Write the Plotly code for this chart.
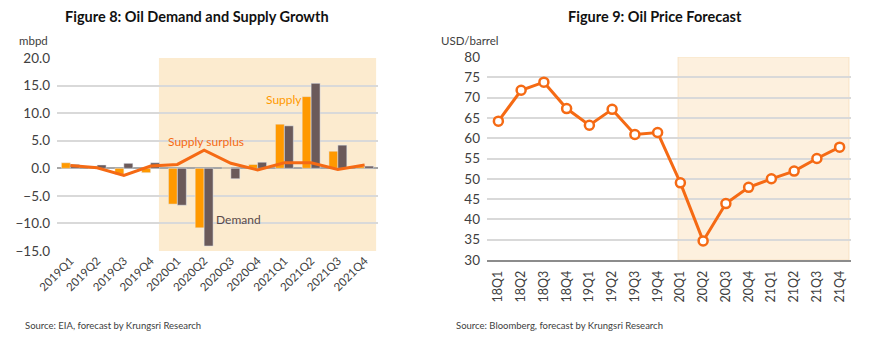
import plotly.graph_objects as go

# ---- Figure 8 data ----
quarters8 = ["2019Q1", "2019Q2", "2019Q3", "2019Q4", "2020Q1", "2020Q2",
             "2020Q3", "2020Q4", "2021Q1", "2021Q2", "2021Q3", "2021Q4"]
supply = [1.0, 0.4, -1.1, -0.8, -6.5, -10.8, 0.1, 0.7, 8.0, 13.0, 3.1, 0.3]
demand = [0.7, 0.6, 0.9, 1.0, -6.7, -14.1, -1.9, 1.1, 7.7, 15.4, 4.2, 0.4]
surplus = [0.5, 0.1, -1.3, 0.4, 0.7, 3.3, 0.9, -0.3, 1.0, 1.0, -0.2, 0.6]
y8_ticks = [-15, -10, -5, 0, 5, 10, 15, 20]

# ---- Figure 9 data ----
quarters9 = ["18Q1", "18Q2", "18Q3", "18Q4", "19Q1", "19Q2", "19Q3", "19Q4",
             "20Q1", "20Q2", "20Q3", "20Q4", "21Q1", "21Q2", "21Q3", "21Q4"]
price = [64.2, 71.8, 73.8, 67.3, 63.2, 67.1, 60.9, 61.4,
         49.0, 34.7, 43.9, 47.9, 50.0, 51.9, 55.0, 57.8]
y9_ticks = [30, 35, 40, 45, 50, 55, 60, 65, 70, 75, 80]

FONT = "Lato"
ORANGE = "#FF9900"
GREY = "#6B5A5A"
LINE = "#F56A14"
GRID = "#D9D9D9"
TXT = "#404040"

fig = go.Figure()

fig.add_trace(go.Bar(x=quarters8, y=supply, marker_color=ORANGE, name="Supply",
                     xaxis="x", yaxis="y"))
fig.add_trace(go.Bar(x=quarters8, y=demand, marker_color=GREY, name="Demand",
                     xaxis="x", yaxis="y"))
fig.add_trace(go.Scatter(x=quarters8, y=surplus, mode="lines",
                         line=dict(color=LINE, width=3), name="Supply surplus",
                         xaxis="x", yaxis="y"))

fig.add_trace(go.Scatter(x=quarters9, y=price, mode="lines+markers",
                         line=dict(color=LINE, width=3),
                         marker=dict(size=9, color="white",
                                     line=dict(color=LINE, width=2.5)),
                         name="Price", xaxis="x2", yaxis="y2"))

W, H = 870, 338
def px_x(p):
    return p / W
def px_y(p):
    return 1 - p / H

fig.update_layout(
    width=W, height=H, margin=dict(l=0, r=0, t=0, b=0, autoexpand=False),
    paper_bgcolor="white", plot_bgcolor="white",
    showlegend=False, barmode="group", bargap=0.33, bargroupgap=0,
    font=dict(family=FONT, color=TXT),
    xaxis=dict(domain=[px_x(57), px_x(378)], anchor="y", type="category",
               range=[-0.5, 11.5], tickangle=-45, tickfont=dict(size=11.5),
               showgrid=False, ticks="", showline=False, automargin=False),
    yaxis=dict(domain=[px_y(251), px_y(58)], anchor="x", range=[-15, 20],
               tickvals=y8_ticks, tickformat=".1f", tickfont=dict(size=13.5),
               showgrid=True, gridcolor=GRID, gridwidth=1.5,
               zeroline=True, zerolinecolor="#A6A6A6", zerolinewidth=1.5,
               ticks="", ticklabelstandoff=6, automargin=False),
    xaxis2=dict(domain=[px_x(487), px_x(851)], anchor="y2", type="category",
                range=[-0.5, 15.5], tickangle=-90, tickfont=dict(size=12.5),
                showgrid=False, ticks="", showline=True, linecolor="#8C8C8C",
                linewidth=1.5, automargin=False, ticklabelstandoff=4),
    yaxis2=dict(domain=[px_y(260), px_y(57)], anchor="x2", range=[30, 80],
                tickvals=y9_ticks, tickfont=dict(size=13.5),
                showgrid=True, gridcolor=GRID, gridwidth=1.5,
                zeroline=False, ticks="", ticklabelstandoff=6, automargin=False),
)

fig.add_shape(type="rect", xref="x", yref="y", x0=3.31, x1=11.43, y0=-15, y1=20,
              fillcolor="#FCEBCF", line=dict(width=0), layer="below")
fig.add_shape(type="rect", xref="x2", yref="y2", x0=7.9, x1=15.41, y0=30, y1=80,
              fillcolor="#FDF0DE", line=dict(color="#F8E3C4", width=1), layer="below")

anns = [
    dict(text="<b>Figure 8: Oil Demand and Supply Growth</b>", x=px_x(197), y=px_y(16),
         font=dict(size=14.5, color="#111111")),
    dict(text="<b>Figure 9: Oil Price Forecast</b>", x=px_x(655), y=px_y(16),
         font=dict(size=14.5, color="#111111")),
    dict(text="mbpd", x=px_x(33), y=px_y(41), font=dict(size=11.5, color=TXT)),
    dict(text="USD/barrel", x=px_x(470), y=px_y(41), font=dict(size=11.5, color=TXT)),
    dict(text="Source: EIA, forecast by Krungsri Research", x=px_x(23), y=px_y(325),
         xanchor="left", font=dict(size=9.5, color=TXT)),
    dict(text="Source: Bloomberg, forecast by Krungsri Research", x=px_x(454), y=px_y(325),
         xanchor="left", font=dict(size=9.5, color=TXT)),
    dict(text="Supply", x=px_x(284), y=px_y(100), font=dict(size=12, color=ORANGE)),
    dict(text="Supply surplus", x=px_x(206), y=px_y(142), font=dict(size=12, color=LINE)),
    dict(text="Demand", x=px_x(239), y=px_y(219), font=dict(size=12, color="#5A4A4A")),
]
for a in anns:
    a.setdefault("xanchor", "center")
    fig.add_annotation(xref="paper", yref="paper", showarrow=False, yanchor="middle", **a)

fig.write_html("out.html")
